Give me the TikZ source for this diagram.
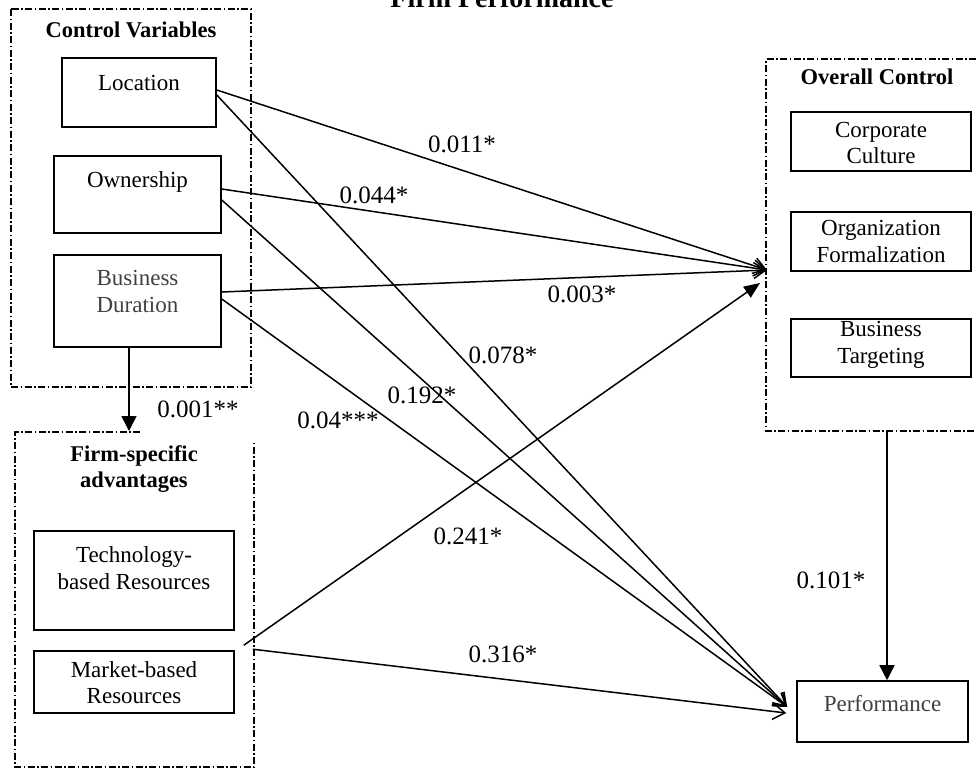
\documentclass[tikz,border=0pt]{standalone}
\usepackage{fontspec}
\setmainfont{Liberation Serif}
\usetikzlibrary{arrows.meta,calc}
\begin{document}
\begin{tikzpicture}[x=1pt,y=-1pt,
  box/.style={draw, line width=1.6pt, inner sep=0pt},
  txt/.style={anchor=base, font=\fontsize{23}{27}\selectfont, inner sep=0pt},
  graytxt/.style={txt, text=black!75},
  hd/.style={anchor=base, font=\bfseries\fontsize{22.5}{27}\selectfont, inner sep=0pt},
  lbl/.style={anchor=base, font=\fontsize{25}{28}\selectfont, inner sep=0pt},
  grp/.style={line width=1.4pt, dash pattern=on 7pt off 2.5pt on 1.5pt off 2.5pt},
  conn/.style={line width=1.5pt, -{Straight Barb[length=12pt,width=16pt]}},
  solarrow/.style={line width=1.5pt, -{Triangle[length=15pt,width=15pt]}}]
\useasboundingbox (0,0) rectangle (976,769);

% title (mostly cut off at top)
\node[anchor=base, font=\bfseries\fontsize{28}{32}\selectfont, inner sep=0pt] (title) at (502,7) {Firm Performance};

% group frames
\draw[grp] (11,9) rectangle (251,387);
\draw[grp] (140,432) -- (15,432) -- (15,767) -- (254,767) -- (254,440);
\draw[grp] (976,59) -- (766,59) -- (766,431) -- (976,431);

% Control variables
\node[hd] (cvh) at (131,37) {Control Variables};
\node[box, minimum width=154pt, minimum height=69pt] (loc) at (139,92.5) {};
\node[txt] (loct) at (139,90) {Location};
\node[box, minimum width=167pt, minimum height=77pt] (own) at (137.5,194.5) {};
\node[txt] (ownt) at (137.5,187) {Ownership};
\node[box, minimum width=167pt, minimum height=92pt] (bd) at (137.5,301) {};
\node[graytxt] (bdt1) at (137.5,285) {Business};
\node[graytxt] (bdt2) at (137.5,312) {Duration};

% Firm-specific advantages
\node[hd] (fsah1) at (134,461) {Firm-specific};
\node[hd] (fsah2) at (134,487) {advantages};
\node[box, minimum width=200pt, minimum height=99pt] (tech) at (134,580.5) {};
\node[txt] (techt1) at (134,562) {Technology-};
\node[txt] (techt2) at (134,589) {based Resources};
\node[box, minimum width=200pt, minimum height=62pt] (mkt) at (134,682) {};
\node[txt] (mktt1) at (134,677) {Market-based};
\node[txt] (mktt2) at (134,703) {Resources};

% Overall control
\node[hd] (och) at (877,84) {Overall Control};
\node[box, minimum width=180pt, minimum height=59pt] (cc) at (881,141.5) {};
\node[txt] (cct1) at (881,137) {Corporate};
\node[txt] (cct2) at (881,163) {Culture};
\node[box, minimum width=180pt, minimum height=59pt] (of) at (881,241.5) {};
\node[txt] (oft1) at (881,235) {Organization};
\node[txt] (oft2) at (881,262) {Formalization};
\node[box, minimum width=180pt, minimum height=58pt] (bt) at (881,348) {};
\node[txt] (btt1) at (881,336) {Business};
\node[txt] (btt2) at (881,363) {Targeting};

% Performance
\node[box, minimum width=171pt, minimum height=61pt] (perf) at (882.5,711.5) {};
\node[graytxt] (perft) at (882.5,711) {Performance};

% connector end points
\coordinate (ocin) at (767,270);
\coordinate (ocin2) at (760,283);
\coordinate (pin) at ($(perf.west)+(-9,-4.5)$);
\coordinate (pin2) at ($(perf.west)+(-10,1.5)$);
\coordinate (fsatop) at (129,431);
\coordinate (ocbot) at (887,431);
\coordinate (mk1) at ($(mkt.north east)+(9,-5)$);
\coordinate (mk2) at ($(mkt.north east)+(18,-1)$);

% connectors
\draw[conn] ($(loc.east)+(0,-2.5)$) -- (ocin);
\draw[conn] ($(loc.east)+(0,2.5)$) -- (pin);
\draw[conn] ($(own.east)+(0,-5.5)$) -- (ocin);
\draw[conn] ($(own.east)+(0,5.5)$) -- (pin);
\draw[conn] ($(bd.east)+(0,-9)$) -- (ocin);
\draw[conn] ($(bd.east)+(0,-2)$) -- (pin);
\draw[line width=1.5pt, -{Triangle[length=16pt,width=13pt]}] (mk1) -- (ocin2);
\draw[conn] (mk2) -- (pin2);
\draw[solarrow] (bd.south -| fsatop) -- (fsatop);
\draw[solarrow] (ocbot) -- (ocbot |- perf.north);

% labels
\node[lbl] (l011) at (462,152) {0.011*};
\node[lbl] (l044) at (374,203) {0.044*};
\node[lbl] (l003) at (582,302) {0.003*};
\node[lbl] (l078) at (503,363) {0.078*};
\node[lbl] (l192) at (422,403) {0.192*};
\node[lbl] (l04) at (338,428) {0.04***};
\node[lbl] (l241) at (468,544) {0.241*};
\node[lbl] (l316) at (503,662) {0.316*};
\node[lbl] (l101) at (831,588) {0.101*};
\node[lbl] (l001) at (198,417) {0.001**};
\end{tikzpicture}
\end{document}
